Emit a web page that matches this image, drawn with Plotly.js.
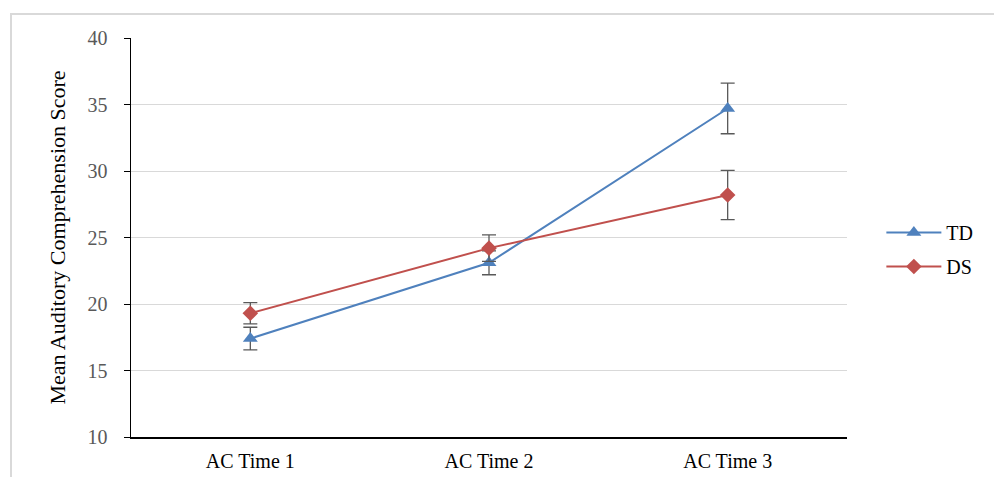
<!DOCTYPE html>
<html>
<head>
<meta charset="utf-8">
<script src="https://cdn.plot.ly/plotly-3.0.1.min.js"></script>
<style>
html,body{margin:0;padding:0;background:#fff;}
#wrap{position:relative;width:994px;height:477px;overflow:hidden;}
#chart{width:994px;height:477px;}
#frame{position:absolute;left:10px;top:13px;width:1000px;height:500px;border:2px solid #d9d9d9;pointer-events:none;box-sizing:border-box;}
</style>
</head>
<body>
<div id="wrap"><div id="chart"></div><div id="frame"></div></div>
<script>
const categories = ["AC Time 1", "AC Time 2", "AC Time 3"];
const tdValues = [17.4, 23.1, 34.7];
const tdErrors = [0.85, 0.9, 1.9];
const dsValues = [19.3, 24.2, 28.2];
const dsErrors = [0.8, 1.0, 1.85];
const yTicks = [10, 15, 20, 25, 30, 35, 40];

const serif = "Liberation Serif, Times New Roman, serif";
const errStyle = {type: "data", visible: true, color: "#595959", thickness: 1.3, width: 7};

const traces = [
  {
    x: categories, y: tdValues, name: "TD", type: "scatter", mode: "lines+markers",
    legendgroup: "td",
    line: {color: "#4F81BD", width: 2},
    marker: {symbol: "triangle-up", size: 13, color: "#4F81BD"},
    error_y: Object.assign({array: tdErrors}, errStyle)
  },
  {
    x: categories, y: dsValues, name: "DS", type: "scatter", mode: "lines+markers",
    legendgroup: "ds",
    line: {color: "#C0504D", width: 2},
    marker: {symbol: "diamond", size: 12, color: "#C0504D"},
    error_y: Object.assign({array: dsErrors}, errStyle)
  }
];

const layout = {
  width: 994, height: 477,
  margin: {l: 131, r: 147, t: 38, b: 40},
  paper_bgcolor: "rgba(0,0,0,0)", plot_bgcolor: "#fff",
  font: {family: serif, color: "#000"},
  showlegend: true,
  legend: {x: 1.048, y: 0.47, xanchor: "left", yanchor: "middle",
           font: {family: serif, size: 20, color: "#000"}, tracegroupgap: 5, itemwidth: 55},
  xaxis: {
    type: "category", range: [-0.5, 2.5],
    showline: true, linecolor: "#000", linewidth: 1.5,
    showgrid: false, ticks: "", zeroline: false,
    ticklabelstandoff: 5,
    tickfont: {family: serif, size: 20, color: "#000"}
  },
  yaxis: {
    range: [10, 40], tickvals: yTicks, ticktext: yTicks.map(String),
    showline: true, linecolor: "#000", linewidth: 1.5,
    showgrid: true, gridcolor: "#d9d9d9", gridwidth: 1, zeroline: false,
    ticks: "outside", ticklen: 6, tickcolor: "#000", tickwidth: 1,
    ticklabelstandoff: 12,
    tickfont: {family: serif, size: 20, color: "#595959"},
    title: {text: "Mean Auditory Comprehension Score", font: {family: serif, size: 22, color: "#000"}, standoff: 16}
  }
};

Plotly.newPlot("chart", traces, layout, {displayModeBar: false, staticPlot: true});
</script>
</body>
</html>
